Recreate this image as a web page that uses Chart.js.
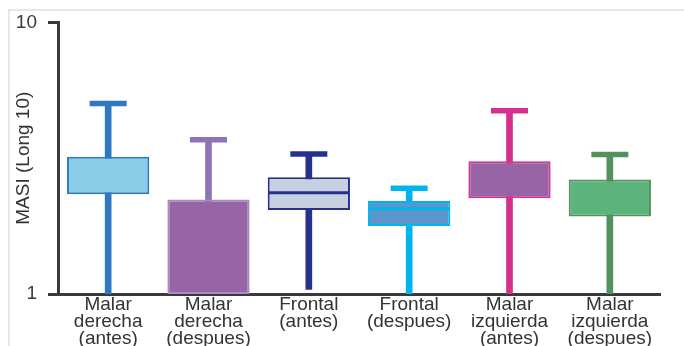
<!DOCTYPE html>
<html>
<head>
<meta charset="utf-8">
<script src="https://cdn.jsdelivr.net/npm/chart.js@4.4.1/dist/chart.umd.min.js"></script>
<style>
  html, body { margin: 0; padding: 0; background: #fff; }
  #wrap { position: relative; width: 684px; height: 346px; overflow: hidden; }
  #frame { position: absolute; left: 8px; top: 9px; right: -4px; bottom: -4px;
           border-left: 2px solid #e2e7ee; border-top: 2px solid #e2e7ee; }
  #masi { position: absolute; left: 0; top: 0; }
</style>
</head>
<body>
<div id="wrap">
  <div id="frame"></div>
  <canvas id="masi" width="684" height="346"></canvas>
</div>
<script>
  // MASI per zone, before/after, on a log10 axis
  var categories = [
    ['Malar', 'derecha', '(antes)'],
    ['Malar', 'derecha', '(despues)'],
    ['Frontal', '(antes)'],
    ['Frontal', '(despues)'],
    ['Malar', 'izquierda', '(antes)'],
    ['Malar', 'izquierda', '(despues)']
  ];
  var mins    = [1, 1, 1.04, 1, 1, 1];
  var q1      = [2.33, 1, 2.04, 1.78, 2.25, 1.93];
  var medians = [null, null, 2.36, 2.06, null, null];
  var q3      = [3.20, 2.23, 2.69, 2.20, 3.08, 2.64];
  var maxs    = [5.03, 3.70, 3.28, 2.45, 4.73, 3.26];
  var yTicks  = [1, 10];

  var boxFill   = ['#89cde9', '#9764a6', '#c7d0e1', '#5a96c9', '#9764a6', '#5cb37b'];
  var boxEdge   = ['#2f7bc2', '#a98bc3', '#26318d', '#00b5ee', '#d4358f', '#53925f'];
  var whiskerCl = ['#2e78c1', '#8e73b6', '#26318d', '#00b5ee', '#d4318f', '#53925f'];

  var boxes = q1.map(function(v, i) { return [v, q3[i]]; });
  var whiskers = mins.map(function(v, i) { return [v, maxs[i]]; });

  var font = "'Liberation Sans', Arial, sans-serif";

  new Chart(document.getElementById('masi').getContext('2d'), {
    type: 'bar',
    data: {
      labels: categories,
      datasets: [
        {
          label: 'whisker', data: whiskers, order: 3,
          backgroundColor: whiskerCl, borderWidth: 0, barThickness: 6, grouped: false
        },
        {
          label: 'box', data: boxes, order: 2,
          backgroundColor: boxFill, borderColor: boxEdge, borderWidth: 2,
          borderSkipped: false, categoryPercentage: 1, barPercentage: 0.82, grouped: false
        },
        {
          type: 'line', label: 'cap', data: maxs, order: 1, showLine: false,
          pointStyle: 'line', pointRadius: 18.5, pointHoverRadius: 18.5,
          pointBorderWidth: 5.5, pointBorderColor: whiskerCl
        },
        {
          type: 'line', label: 'median', data: medians, order: 0, showLine: false,
          pointStyle: 'line', pointRadius: 40, pointHoverRadius: 40,
          pointBorderWidth: 3, pointBorderColor: boxEdge
        }
      ]
    },
    options: {
      responsive: false,
      animation: false,
      events: [],
      layout: { autoPadding: false, padding: { top: 19, right: 24, left: 0, bottom: 0 } },
      plugins: { legend: { display: false }, tooltip: { enabled: false } },
      scales: {
        x: {
          offset: true,
          grid: { display: false },
          border: { display: true, color: '#3a3a3a', width: 3 },
          ticks: { color: '#333', padding: -6, maxRotation: 0, autoSkip: false,
                   font: { family: font, size: 19, lineHeight: 0.9 } },
          afterFit: function(s) { s.height = 52; }
        },
        y: {
          type: 'logarithmic',
          min: 1, max: 10,
          afterBuildTicks: function(s) { s.ticks = yTicks.map(function(v) { return { value: v }; }); },
          grid: { drawOnChartArea: false, drawTicks: true, tickLength: 10, color: '#3a3a3a', lineWidth: 3 },
          border: { display: true, color: '#3a3a3a', width: 3 },
          ticks: { color: '#3a3a3a', padding: 11, font: { family: font, size: 19 },
                   callback: function(v) { return String(v); } },
          title: { display: true, text: 'MASI (Long 10)', color: '#333', padding: { top: 12, bottom: 0 },
                   font: { family: font, size: 19 } },
          afterFit: function(s) { s.width = 58; }
        }
      }
    }
  });
</script>
</body>
</html>
